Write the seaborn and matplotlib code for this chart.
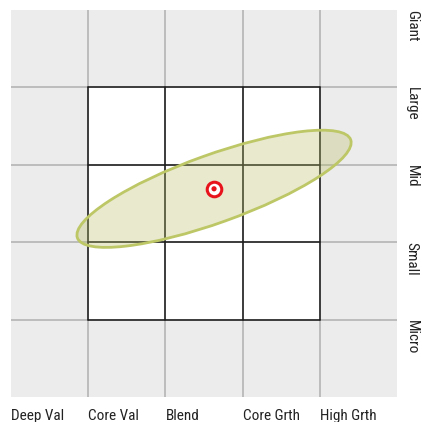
import numpy as np
import pandas as pd
import matplotlib
matplotlib.use("Agg")
import matplotlib.pyplot as plt
from matplotlib.patches import Ellipse, Rectangle
import seaborn as sns

# style box labels
style_labels = ["Deep Val", "Core Val", "Blend", "Core Grth", "High Grth"]
size_labels = ["Giant", "Large", "Mid", "Small", "Micro"]

# ownership zone (in style-box units, 0..5)
centroid_x = [2.63]
centroid_y = [2.69]
zone_width = 3.76
zone_height = 0.88
zone_angle = 19.7

sns.set_theme(style="white")
plt.rcParams['font.family'] = ['Roboto Condensed', 'DejaVu Sans']
plt.rcParams['font.stretch'] = 'condensed'

fig = plt.figure(figsize=(4.22, 4.22), dpi=100)
ax = fig.add_axes([11 / 422, 25 / 422, 386 / 422, 387 / 422])
ax.set_facecolor("#ececec")
ax.set_xlim(0, 5)
ax.set_ylim(0, 5)

# inner 3x3 box in white
ax.add_patch(Rectangle((1, 1), 3, 3, facecolor="white", edgecolor="none", zorder=0.5))

for v in range(1, 5):
    ax.axvline(v, color="#b4b4b4", lw=1.2, zorder=0.6)
    ax.axhline(v, color="#b4b4b4", lw=1.2, zorder=0.6)
for v in range(1, 5):
    ax.plot([v, v], [1, 4], color="#1a1a1a", lw=1.1, zorder=1)
    ax.plot([1, 4], [v, v], color="#1a1a1a", lw=1.1, zorder=1)

zone = Ellipse((centroid_x[0], centroid_y[0]), zone_width, zone_height, angle=zone_angle,
               facecolor=(0.72, 0.74, 0.40, 0.32), edgecolor="#bdc765", lw=2.0, zorder=2)
ax.add_patch(zone)

df = pd.DataFrame({"x": centroid_x, "y": centroid_y})
sns.scatterplot(data=df, x="x", y="y", ax=ax, s=110, color="white",
                edgecolor="#e8141c", linewidth=2.2, zorder=3, legend=False)
sns.scatterplot(data=df, x="x", y="y", ax=ax, s=14, color="#e8141c",
                edgecolor="none", zorder=4, legend=False)

for sp in ax.spines.values():
    sp.set_visible(False)
ax.set_xticks([])
ax.set_yticks([])
ax.set_xlabel("")
ax.set_ylabel("")

for i, lab in enumerate(style_labels):
    ax.text(i, -0.15, lab, ha="left", va="top", fontsize=11, color="#222222")
for i, lab in enumerate(size_labels):
    ax.text(5.19, 5 - i, lab, ha="center", va="top", rotation=-90,
            fontsize=11, color="#222222")

fig.savefig("out.png", dpi=100)
